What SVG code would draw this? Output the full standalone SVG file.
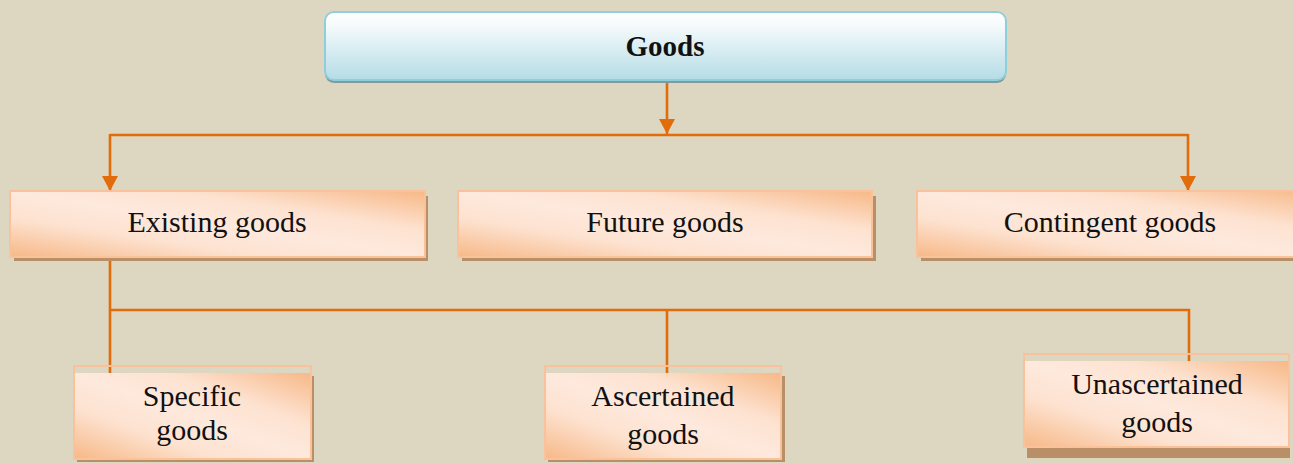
<svg xmlns="http://www.w3.org/2000/svg" width="1293" height="464" viewBox="0 0 1293 464">
<defs>
<linearGradient id="gBlue" x1="0" y1="0" x2="0" y2="1">
<stop offset="0" stop-color="#ffffff"/>
<stop offset="0.2" stop-color="#f5fafb"/>
<stop offset="1" stop-color="#b5dce6"/>
</linearGradient>
<linearGradient id="gOr" x1="0" y1="1" x2="1" y2="0">
<stop offset="0" stop-color="#f7b887"/>
<stop offset="0.3" stop-color="#fde2d0"/>
<stop offset="0.5" stop-color="#fee9dd"/>
<stop offset="0.7" stop-color="#fde2d0"/>
<stop offset="1" stop-color="#f7b887"/>
</linearGradient>
<marker id="arr" viewBox="0 0 15 16" refX="15" refY="8" markerWidth="15" markerHeight="16" markerUnits="userSpaceOnUse" orient="auto">
<path d="M0,0 L15,8 L0,16 Z" fill="#e36c0a"/>
</marker>
<style>
.bg{fill:#ddd6c1}
.ln{fill:none;stroke:#e36c0a;stroke-width:2.6}
.sh{fill:#b98f68}
.ob{fill:url(#gOr);stroke:#f9c29a;stroke-width:2}
.fr{fill:none;stroke:#f9c29a;stroke-width:2}
.fi{fill:url(#gOr)}
.t{font-family:"Liberation Serif","Times New Roman",serif;font-size:30px;fill:#111;text-anchor:middle}
.tb{font-weight:bold;font-size:29px}
</style>
</defs>
<rect class="bg" x="0" y="0" width="1293" height="464"/>
<g id="connectors">
<line class="ln" x1="667" y1="82" x2="667" y2="134" marker-end="url(#arr)"/>
<polyline class="ln" points="110,135 1188,135"/>
<line class="ln" x1="110" y1="134" x2="110" y2="191" marker-end="url(#arr)"/>
<line class="ln" x1="1188" y1="134" x2="1188" y2="191" marker-end="url(#arr)"/>
<line class="ln" x1="110" y1="257" x2="110" y2="374"/>
<polyline class="ln" points="110,310 1189,310 1189,362"/>
<line class="ln" x1="667" y1="310" x2="667" y2="374"/>
</g>
<g id="goods">
<rect x="325" y="15" width="681" height="68" rx="9" fill="#7d9c9e"/>
<rect x="325" y="12" width="681" height="68" rx="9" fill="url(#gBlue)" stroke="#8ecfdd" stroke-width="2"/>
<text class="t tb" x="665" y="56">Goods</text>
</g>
<g id="existing">
<rect class="sh" x="14" y="196" width="414" height="65"/>
<rect class="ob" x="10" y="191" width="415" height="66"/>
<text class="t" x="217" y="232">Existing goods</text>
</g>
<g id="future">
<rect class="sh" x="462" y="196" width="414" height="65"/>
<rect class="ob" x="458" y="191" width="414" height="66"/>
<text class="t" x="665" y="232">Future goods</text>
</g>
<g id="contingent">
<rect class="sh" x="921" y="196" width="400" height="65"/>
<rect class="ob" x="917" y="191" width="400" height="66"/>
<text class="t" x="1110" y="232">Contingent goods</text>
</g>
<g id="specific">
<rect class="sh" x="77" y="376" width="237" height="86"/>
<rect class="fi" x="74" y="373" width="237" height="86"/>
<rect class="fr" x="74" y="366" width="237" height="93"/>
<text class="t" x="192" y="406">Specific</text>
<text class="t" x="192" y="440">goods</text>
</g>
<g id="ascertained">
<rect class="sh" x="548" y="376" width="237" height="86"/>
<rect class="fi" x="545" y="373" width="236" height="86"/>
<rect class="fr" x="545" y="366" width="236" height="93"/>
<text class="t" x="663" y="406">Ascertained</text>
<text class="t" x="663" y="444">goods</text>
</g>
<g id="unascertained">
<rect class="sh" x="1027" y="363" width="263" height="95"/>
<rect class="fi" x="1024" y="361" width="265" height="86"/>
<rect class="fr" x="1024" y="354" width="265" height="93"/>
<text class="t" x="1157" y="394">Unascertained</text>
<text class="t" x="1157" y="432">goods</text>
</g>
</svg>
